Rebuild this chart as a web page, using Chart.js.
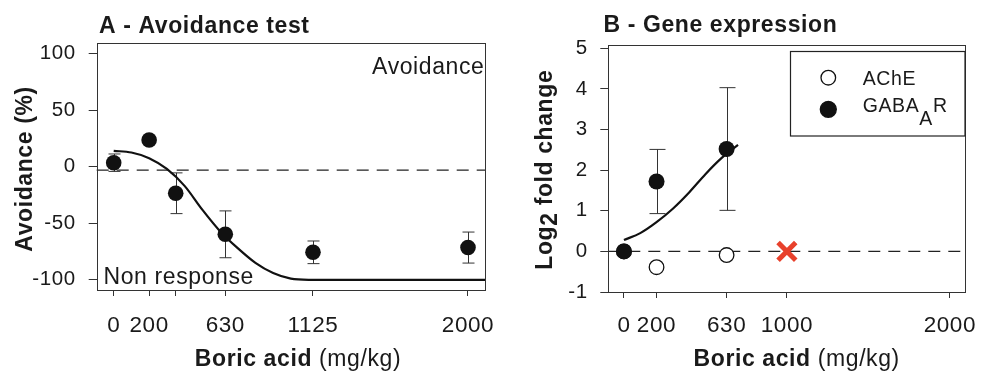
<!DOCTYPE html>
<html>
<head>
<meta charset="utf-8">
<script src="https://cdn.jsdelivr.net/npm/chart.js@4.4.0/dist/chart.umd.min.js"></script>
<style>
  html, body { margin: 0; padding: 0; background: #fff; }
  #wrap { position: relative; width: 983px; height: 373px; overflow: hidden; }
  canvas { position: absolute; top: 0; }
  #chartA { left: 0; }
  #chartB { left: 490px; }
</style>
</head>
<body>
<div id="wrap">
  <canvas id="chartA" width="520" height="373"></canvas>
  <canvas id="chartB" width="493" height="373"></canvas>
</div>
<script>
// ---------- data ----------
const xRange = [-96, 2096];

// A - avoidance test
const avoidDose = [0, 200, 350, 630, 1125, 2000];
const avoidMean = [3.5, 23.6, -23.5, -59.8, -75.7, -71.5];
const avoidErr = [7.7, 0, 18, 20.7, 10, 13.7];
const avoidFitDose = [0, 100, 200, 300, 400, 500, 600, 700, 800, 900, 1000, 1100, 2096];
const avoidFit = [14, 12.5, 7.5, -2, -17, -38, -57, -72, -85, -94, -99, -100, -100];
const avoidRefY = -3;
const avoidXTicks = [0, 200, 350, 630, 1125, 2000];
const avoidXLabels = ["0", "200", "", "630", "1125", "2000"];
const avoidYTicks = [-100, -50, 0, 50, 100];
const avoidYRange = [-109, 109];

// B - gene expression
const geneSeries = ["AChE", "GABA_{A}R"];
const geneDose = [0, 200, 630];
const acheMean = [0, -0.39, -0.09];
const gabaMean = [0, 1.72, 2.52];
const gabaErr = [0, 0.79, 1.51];
const gabaFitDose = [0, 100, 200, 300, 400, 500, 600, 700];
const gabaFit = [0.28, 0.45, 0.72, 1.05, 1.45, 1.9, 2.3, 2.62];
const missingDose = [1000];
const missingVal = [0];
const geneRefY = 0;
const geneXTicks = [0, 200, 630, 1000, 2000];
const geneXLabels = ["0", "200", "630", "1000", "2000"];
const geneYTicks = [-1, 0, 1, 2, 3, 4, 5];
const geneYRange = [-1, 5.08];

// ---------- helpers ----------
const INK = "#1a1a1a";
const FONT = '"Liberation Sans", Arial, Helvetica, sans-serif';
const LS = "0.6px";

const pts = (xs, ys) => xs.map((x, i) => ({ x, y: ys[i] }));

// "GABA_{A}R" -> segments, sub parts shifted down
function richSegs(str, font, subDy) {
  const out = [];
  const re = /_\{([^}]*)\}/g;
  let last = 0, m;
  while ((m = re.exec(str))) {
    if (m.index > last) out.push({ t: str.slice(last, m.index), font, dy: 0 });
    out.push({ t: m[1], font, dy: subDy });
    last = re.lastIndex;
  }
  if (last < str.length) out.push({ t: str.slice(last), font, dy: 0 });
  return out;
}

function drawSegs(ctx, segs, x, y, align) {
  ctx.letterSpacing = LS;
  let w = 0;
  segs.forEach((s) => { ctx.font = s.font; s.w = ctx.measureText(s.t).width; w += s.w; });
  let cx = align === "center" ? x - w / 2 : align === "right" ? x - w : x;
  ctx.textAlign = "left";
  ctx.textBaseline = "alphabetic";
  ctx.fillStyle = INK;
  segs.forEach((s) => { ctx.font = s.font; ctx.fillText(s.t, cx, y + s.dy); cx += s.w; });
}

function drawRotated(ctx, segs, x, y) {
  ctx.save();
  ctx.translate(x, y);
  ctx.rotate(-Math.PI / 2);
  drawSegs(ctx, segs, 0, 0, "center");
  ctx.restore();
}

const bold = (px) => `bold ${px}px ${FONT}`;
const plain = (px) => `${px}px ${FONT}`;

function xTitle(ctx, cx, y) {
  drawSegs(ctx, [{ t: "Boric acid", font: bold(23), dy: 0 }, { t: " (mg/kg)", font: plain(23), dy: 0 }], cx, y, "center");
}

function drawErrorBars(chart, xs, ys, errs, cap) {
  const { ctx, scales: { x, y } } = chart;
  ctx.save();
  ctx.strokeStyle = "#333";
  ctx.lineWidth = 1;
  xs.forEach((d, i) => {
    if (!errs[i]) return;
    const px = Math.round(x.getPixelForValue(d)) + 0.5;
    const top = y.getPixelForValue(ys[i] + errs[i]);
    const bot = y.getPixelForValue(ys[i] - errs[i]);
    ctx.beginPath();
    ctx.moveTo(px, top); ctx.lineTo(px, bot);
    ctx.moveTo(px - cap, top); ctx.lineTo(px + cap, top);
    ctx.moveTo(px - cap, bot); ctx.lineTo(px + cap, bot);
    ctx.stroke();
  });
  ctx.restore();
}

function drawRefLine(chart, val) {
  const { ctx, chartArea: a, scales: { y } } = chart;
  const py = y.getPixelForValue(val);
  ctx.save();
  ctx.strokeStyle = "#222";
  ctx.lineWidth = 1.2;
  ctx.setLineDash([12, 8]);
  ctx.beginPath();
  ctx.moveTo(a.left, py); ctx.lineTo(a.right, py);
  ctx.stroke();
  ctx.restore();
}

function drawBox(chart) {
  const { ctx, chartArea: a } = chart;
  ctx.save();
  ctx.strokeStyle = "#333";
  ctx.lineWidth = 1;
  ctx.strokeRect(Math.round(a.left) + 0.5, Math.round(a.top) + 0.5, Math.round(a.right - a.left), Math.round(a.bottom - a.top));
  ctx.restore();
}

function scaleOpts(o) {
  return {
    x: {
      type: "linear", min: xRange[0], max: xRange[1], bounds: "data",
      afterBuildTicks: (s) => { s.ticks = o.xTicks.map((v) => ({ value: v })); },
      afterFit: (s) => { s.height = o.xAxisH; s.paddingLeft = 0; s.paddingRight = 0; },
      grid: { drawOnChartArea: false, drawTicks: true, tickLength: 6, color: "#333", lineWidth: 1 },
      border: { display: false },
      ticks: {
        autoSkip: false, maxRotation: 0, minRotation: 0, padding: o.xPad, color: INK,
        font: { family: FONT, size: 22.5 },
        callback: (v, i) => o.xLabels[i],
      },
    },
    y: {
      type: "linear", min: o.yRange[0], max: o.yRange[1], bounds: "data",
      afterBuildTicks: (s) => { s.ticks = o.yTicks.map((v) => ({ value: v })); },
      afterFit: (s) => { s.width = o.yAxisW; s.paddingTop = 0; s.paddingBottom = 0; },
      grid: { drawOnChartArea: false, drawTicks: true, tickLength: 8, color: "#333", lineWidth: 1 },
      border: { display: false },
      ticks: { padding: o.yPad, color: INK, font: { family: FONT, size: 20.5 }, callback: (v) => String(v) },
    },
  };
}

const spacing = { id: "spacing", beforeDraw: (c) => { c.ctx.letterSpacing = LS; } };

const base = {
  responsive: false,
  animation: false,
  events: [],
  plugins: { legend: { display: false }, tooltip: { enabled: false } },
};

// ---------- A ----------
new Chart(document.getElementById("chartA"), {
  type: "scatter",
  data: {
    datasets: [
      {
        data: pts(avoidDose, avoidMean),
        pointRadius: 7.8, pointBackgroundColor: "#111", pointBorderWidth: 0,
      },
      {
        type: "line", data: pts(avoidFitDose, avoidFit), showLine: true,
        borderColor: "#111", borderWidth: 2.2, pointRadius: 0,
        cubicInterpolationMode: "monotone",
      },
    ],
  },
  options: {
    ...base,
    layout: { padding: { left: 0, top: 43.3, right: 35, bottom: 0 } },
    scales: scaleOpts({
      xTicks: avoidXTicks, xLabels: avoidXLabels, xPad: 16.5, xAxisH: 83,
      yTicks: avoidYTicks, yRange: avoidYRange, yPad: 13, yAxisW: 96.7,
    }),
  },
  plugins: [spacing, {
    id: "decorA",
    beforeDatasetsDraw(chart) {
      drawRefLine(chart, avoidRefY);
      drawErrorBars(chart, avoidDose, avoidMean, avoidErr, 6);
    },
    afterDraw(chart) {
      const ctx = chart.ctx;
      drawBox(chart);
      drawSegs(ctx, [{ t: "A - Avoidance test", font: bold(23), dy: 0 }], 99, 32.5, "left");
      drawRotated(ctx, [{ t: "Avoidance (%)", font: bold(23), dy: 0 }], 31.5, 169);
      xTitle(ctx, 298, 366);
      drawSegs(ctx, [{ t: "Avoidance", font: plain(23), dy: 0 }], 484.5, 74, "right");
      drawSegs(ctx, [{ t: "Non response", font: plain(23), dy: 0 }], 103.5, 283.5, "left");
    },
  }],
});

// ---------- B ----------
new Chart(document.getElementById("chartB"), {
  type: "scatter",
  data: {
    datasets: [
      {
        data: pts(geneDose, gabaMean),
        pointRadius: 8, pointBackgroundColor: "#111", pointBorderWidth: 0,
      },
      {
        data: pts(geneDose, acheMean),
        pointRadius: 7.3, pointBackgroundColor: "#fff", pointBorderColor: "#111", pointBorderWidth: 1.3,
      },
      {
        data: pts(missingDose, missingVal),
        pointStyle: "crossRot", pointRadius: 12.5, pointBorderColor: "#e8412c", pointBorderWidth: 5,
      },
      {
        type: "line", data: pts(gabaFitDose, gabaFit), showLine: true,
        borderColor: "#111", borderWidth: 2.2, pointRadius: 0,
        cubicInterpolationMode: "monotone",
      },
    ],
  },
  options: {
    ...base,
    layout: { padding: { left: 0, top: 45, right: 11.3, bottom: 0 } },
    scales: scaleOpts({
      xTicks: geneXTicks, xLabels: geneXLabels, xPad: 14.5, xAxisH: 81,
      yTicks: geneYTicks, yRange: geneYRange, yPad: 12.5, yAxisW: 118.3,
    }),
  },
  plugins: [spacing, {
    id: "decorB",
    beforeDatasetsDraw(chart) {
      drawRefLine(chart, geneRefY);
      drawErrorBars(chart, geneDose, gabaMean, gabaErr, 8);
    },
    afterDraw(chart) {
      const ctx = chart.ctx;
      drawBox(chart);
      drawSegs(ctx, [{ t: "B - Gene expression", font: bold(23), dy: 0 }], 113.5, 32, "left");
      drawRotated(ctx, richSegs("Log_{2} fold change", bold(23), 5), 61.7, 169.7);
      xTitle(ctx, 306.7, 366);

      // legend
      ctx.save();
      ctx.strokeStyle = "#222";
      ctx.lineWidth = 1.2;
      ctx.strokeRect(300.5, 51.5, 174.5, 84.5);
      const mk = [
        { y: 77.7, fill: "#fff", stroke: "#111", r: 7.3 },
        { y: 109.3, fill: "#111", stroke: "#111", r: 8 },
      ];
      const base = [85.3, 112];
      geneSeries.forEach((name, i) => {
        ctx.beginPath();
        ctx.arc(338.3, mk[i].y, mk[i].r, 0, Math.PI * 2);
        ctx.fillStyle = mk[i].fill;
        ctx.fill();
        ctx.lineWidth = 1.3;
        ctx.strokeStyle = mk[i].stroke;
        ctx.stroke();
        drawSegs(ctx, richSegs(name, plain(19.5), 13.3), 372.7, base[i], "left");
      });
      ctx.restore();
    },
  }],
});
</script>
</body>
</html>
